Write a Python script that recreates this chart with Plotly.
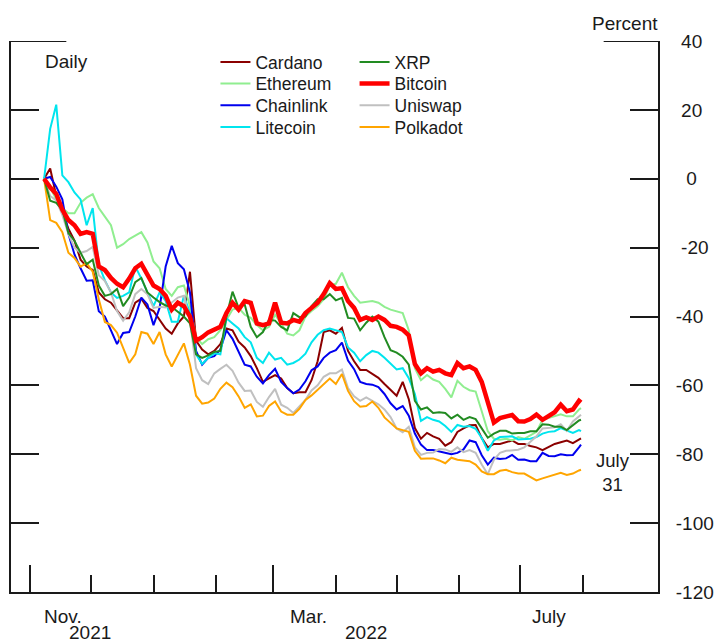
import pandas as pd
import plotly.graph_objects as go

# ---- data (percent change since Nov. 8, 2021; every 3 days, last point July 31) ----
start = pd.Timestamp("2021-11-08")
dates = [start + pd.Timedelta(days=3 * i) for i in range(89)] + [pd.Timestamp("2022-07-31")]

bitcoin = [0, -2.5, -4.4, -9, -12, -13.5, -16, -15.5, -16, -25.5,
           -26.5, -28.8, -30.5, -31.5, -29, -26, -24.7, -28, -31, -32,
           -34, -38, -36, -37, -40, -47, -46, -44.6, -43.7, -43,
           -39, -36, -38, -35.5, -36, -42, -42.5, -42, -36, -41.8,
           -42, -41, -41.5, -39, -37.5, -36, -33.5, -30.3, -32, -31.8,
           -35.5, -37.5, -41, -40.3, -41, -40, -41, -42.7, -43, -43.8,
           -45.5, -53.8, -56.5, -55, -56, -55.5, -56.5, -57, -53.5, -55,
           -54.5, -55.5, -59, -65.4, -70.8, -69.5, -69, -68.6, -70.4, -70.5,
           -69.8, -68.5, -70, -69, -67.8, -65.6, -67.5, -67, -64.5, -65]

ethereum = [0, -2.5, -6, -8.5, -10, -10, -7, -5.5, -4.5, -8.5,
            -11, -13.5, -20, -19, -17.5, -16.5, -15.5, -18.5, -24, -26,
            -32, -34, -31.5, -31, -37, -46, -48, -46.6, -46, -44,
            -41, -38, -37.5, -39.5, -40.4, -42.5, -44, -43, -39.5, -42,
            -45, -45.5, -44, -40, -38.4, -37, -35, -31, -30.5, -27.3,
            -31.5, -34, -36, -35.8, -35.5, -36, -37.2, -38, -38.6, -39,
            -44, -55, -58.5, -57, -58.3, -59, -61, -63.5, -58.7, -60.4,
            -61.4, -61.8, -67.5, -73.3, -75.5, -75.8, -75.5, -76, -75, -75.5,
            -74.5, -73.5, -70, -69.4, -68.8, -68.4, -69, -69, -67, -66.6]

xrp = [0, -6.4, -7, -9, -15.8, -18, -21.5, -24.8, -23.5, -31,
       -34, -33.5, -32, -37, -34.5, -30, -28.8, -33, -34.5, -35.8,
       -36.8, -37.2, -38.6, -40, -42, -51, -52, -51.3, -50.3, -50,
       -40, -32.8, -37.5, -36.5, -43, -46, -44.5, -41, -41.2, -43,
       -44, -39, -40.2, -40, -37, -35, -35, -33.5, -35.3, -34.6,
       -40.4, -40.6, -44, -41.8, -40, -41.5, -46, -49.8, -50.5, -51.7,
       -54, -64.5, -67, -66.4, -68, -67.8, -68, -69.6, -68.5, -70,
       -69.2, -69.8, -72.5, -75.2, -74, -73.2, -73.2, -74, -73.8, -73.8,
       -73.3, -73.3, -71.3, -71.4, -72, -72, -73, -71.5, -70.2, -70]

cardano = [0, 3, -5, -10, -14.5, -18, -23.5, -25.5, -26.5, -33,
           -35, -36, -38.4, -40.5, -40.5, -36, -34.8, -37.5, -38.4, -41,
           -43.5, -45, -42, -40, -27, -47, -49.6, -51, -50, -48,
           -43.5, -44, -47.3, -49, -51.5, -55, -59, -58, -57, -58,
           -60.8, -62.3, -62, -62, -58.5, -53, -44.5, -44, -45, -43.3,
           -50, -53, -55.5, -55.5, -56.7, -57.8, -59.6, -61.3, -63, -59,
           -64, -72.4, -75.5, -73.8, -74.8, -75.5, -77.5, -76.5, -73.5, -72.5,
           -71.6, -71.5, -75.3, -78, -77, -77, -76.5, -76, -77, -77,
           -77.6, -78, -78.8, -78, -77, -76.5, -76, -76.8, -75.6, -75.4]

chainlink = [0, 0.5, -2.3, -6, -16, -22, -26, -29.6, -29.5, -38.5,
             -40, -44, -48, -44.8, -44.5, -40, -34.5, -36.5, -42.5, -37.5,
             -25.5, -19.5, -24.5, -26.3, -33, -50, -54, -52, -51.5, -49.6,
             -44, -46.5, -50.3, -54, -54.5, -57.5, -59.4, -57, -55.2, -59,
             -60.8, -62.3, -61.2, -58.8, -55.6, -54.5, -52, -50.5, -49.8, -47.6,
             -52.8, -55.3, -59, -59.6, -59.8, -60.5, -62.5, -65.2, -67, -66,
             -68.8, -74, -77.2, -78.8, -78.8, -79.2, -79.8, -80, -79.6, -78.6,
             -76, -76.5, -80.3, -83, -81, -81.4, -81.2, -80.2, -81.6, -81.5,
             -82, -82, -79.6, -80.5, -80.6, -80, -80.3, -80.2, -78, -77.2]

litecoin = [0, 14.5, 21.5, 1, -1, -4, -6, -13.5, -8.5, -25,
            -29.5, -33, -34.6, -34, -33, -25.5, -29, -33, -37, -33,
            -35.5, -41.5, -41.5, -34, -39, -51, -53.8, -52, -50.7, -51,
            -40.5, -42, -43.5, -46, -47.5, -52, -53.5, -50.5, -52.5, -52,
            -54, -53.5, -52.5, -50.8, -47.5, -45.3, -44, -43.5, -44, -44.5,
            -49, -50.5, -53, -51.2, -50, -50.5, -52, -53.7, -55.4, -55,
            -57.9, -62.5, -70.3, -69.2, -70, -70.5, -71.8, -73.5, -71.5, -72,
            -71.8, -72.6, -75.3, -79, -76, -75, -75, -74.8, -75.7, -75.5,
            -75.5, -75, -74, -73.5, -73.3, -72.4, -73.2, -73.8, -73, -73.3]

uniswap = [0, -5, -6.3, -10.5, -16, -20, -21.5, -21, -19.8, -28,
           -29.7, -33, -38.4, -41.2, -38.8, -33.5, -32, -33.5, -37.5, -37.2,
           -37.4, -36, -34.5, -34, -41, -55, -58.5, -59.6, -56.5, -55.2,
           -54, -55.8, -59.2, -61.6, -61.5, -64.8, -66.2, -63.4, -61, -65.6,
           -66.5, -68, -66, -64.2, -61.5, -60, -57.5, -56.5, -56.5, -55.4,
           -60.8, -63.2, -64.5, -63.5, -64.5, -65.5, -67, -69.2, -72.5, -73.6,
           -72, -78, -80.2, -79.6, -79.5, -78.5, -78.6, -79.3, -78, -79.4,
           -78.8, -79.6, -83, -85.8, -81.6, -79.6, -79, -78.8, -78.7, -78,
           -76.5, -74.8, -72.5, -72.3, -72.2, -71.3, -73.2, -70.5, -68.8, -68.5]

polkadot = [0, -12, -12.8, -15.5, -21.5, -23, -25.5, -24.5, -27, -35,
            -41.6, -42.5, -44.7, -49, -53.5, -51, -44.5, -45, -48, -44.5,
            -51, -54.5, -51, -47.8, -54, -63, -65.3, -65, -63.8, -61,
            -59.2, -60.5, -63.2, -66.5, -65.5, -69, -68.8, -66, -64.7, -67.6,
            -68.5, -68.5, -66.8, -64.2, -62.9, -61.2, -59.6, -58, -59.6, -56.7,
            -61.6, -64.6, -66.2, -66, -64.7, -66.5, -69.3, -71, -72.5, -73,
            -73.5, -79, -81.3, -81.2, -81.2, -81.8, -82.6, -81, -81.6, -81.8,
            -82, -83, -85, -85.8, -85.8, -84.8, -84.5, -85.2, -85.6, -85.6,
            -86.6, -87.6, -87, -86.4, -85.8, -85.4, -86, -85.6, -84.7, -84.5]

y_ticks = [-120, -100, -80, -60, -40, -20, 0, 20, 40]
y_ticktext = ["-120", "-100", "-80", "-60", "-40", "\u00a0-20", "\u00a0\u00a00", "\u00a020", "\u00a040"]
major_months = ["2021-11-01", "2022-03-01", "2022-07-01"]
minor_months = ["2021-12-01", "2022-01-01", "2022-02-01", "2022-04-01",
                "2022-05-01", "2022-06-01", "2022-08-01"]

FONT = "Liberation Sans, Arial, Helvetica, sans-serif"
INK = "#1a1a1a"

# name, values, color, width, legend column, legend row
series = [
    ("Cardano", cardano, "#8B0000", 2, 0, 0),
    ("Ethereum", ethereum, "#90EE90", 2, 0, 1),
    ("Chainlink", chainlink, "#0000EE", 2, 0, 2),
    ("Litecoin", litecoin, "#00E5EE", 2, 0, 3),
    ("Uniswap", uniswap, "#C0C0C0", 2, 1, 2),
    ("Polkadot", polkadot, "#FFA500", 2, 1, 3),
    ("XRP", xrp, "#228B22", 2, 1, 0),
    ("Bitcoin", bitcoin, "#FF0000", 4.5, 1, 1),
]

fig = go.Figure()
legend_layout = {}
col_x = [0.316, 0.531]
for k, (name, vals, color, width, col, row) in enumerate(series):
    key = "legend" if k == 0 else f"legend{k + 1}"
    fig.add_trace(go.Scatter(
        x=dates, y=vals, mode="lines", name=name,
        line=dict(color=color, width=width), legend=key,
    ))
    row_py = 62 + 21.7 * row
    legend_layout[key] = dict(
        x=col_x[col], y=(592 - row_py) / 551, xanchor="left", yanchor="middle",
        bgcolor="rgba(0,0,0,0)", font=dict(size=17.5, color=INK),
        tracegroupgap=0,
    )
# companion trace so the right-hand axis is drawn
fig.add_trace(go.Scatter(x=[dates[0]], y=[None], yaxis="y2", showlegend=False,
                         hoverinfo="skip", mode="lines"))

axis_common = dict(showgrid=False, zeroline=False, showline=True,
                   linecolor=INK, linewidth=2, tickcolor=INK, tickwidth=2)

fig.update_layout(
    width=725, height=643,
    margin=dict(l=11, r=59, t=41, b=51),
    paper_bgcolor="white", plot_bgcolor="white",
    font=dict(family=FONT, size=19, color=INK),
    xaxis=dict(
        type="date", range=["2021-10-22 16:00", "2022-09-07"],
        ticks="inside", tickmode="array", tickvals=major_months, ticklen=27,
        showticklabels=False,
        minor=dict(tickmode="array", tickvals=minor_months, ticks="inside",
                   ticklen=17, tickwidth=2, tickcolor=INK),
        **axis_common,
    ),
    yaxis=dict(
        range=[-120, 40], ticks="inside", tickmode="array", tickvals=y_ticks,
        ticklen=28, showticklabels=False, **axis_common,
    ),
    yaxis2=dict(
        range=[-120, 40], overlaying="y", side="right", anchor="x",
        ticks="inside", tickmode="array", tickvals=y_ticks, ticktext=y_ticktext,
        ticklen=28, tickfont=dict(size=19, color=INK), ticklabelstandoff=12,
        **axis_common,
    ),
    shapes=[
        dict(type="line", xref="x domain", yref="y", x0=0, x1=56 / 655, y0=40, y1=40,
             line=dict(color=INK, width=2)),
        dict(type="line", xref="x domain", yref="y", x0=1 - 55 / 655, x1=1, y0=40, y1=40,
             line=dict(color=INK, width=2)),
    ],
    annotations=[
        dict(text="Daily", xref="paper", yref="paper", x=0.049, y=0.962,
             xanchor="left", yanchor="middle", showarrow=False, font=dict(size=19)),
        dict(text="Percent", xref="paper", yref="paper", x=0.9496, y=1.031,
             xanchor="center", yanchor="middle", showarrow=False, font=dict(size=19)),
        dict(text="July<br>31", xref="paper", yref="y", x=0.9298, y=-85.2,
             xanchor="center", yanchor="middle", showarrow=False, font=dict(size=18.5)),
        dict(text="Nov.", xref="x", yref="paper", x="2021-11-17 12:00", y=-0.0436,
             xanchor="center", yanchor="middle", showarrow=False),
        dict(text="2021", xref="x", yref="paper", x="2021-11-30 16:00", y=-0.0744,
             xanchor="center", yanchor="middle", showarrow=False),
        dict(text="Mar.", xref="x", yref="paper", x="2022-03-18 12:00", y=-0.0436,
             xanchor="center", yanchor="middle", showarrow=False),
        dict(text="2022", xref="x", yref="paper", x="2022-04-16", y=-0.0744,
             xanchor="center", yanchor="middle", showarrow=False),
        dict(text="July", xref="x", yref="paper", x="2022-07-15", y=-0.0436,
             xanchor="center", yanchor="middle", showarrow=False),
    ],
    showlegend=True,
    **legend_layout,
)

fig.write_html("out.html", config={"displayModeBar": False},
               post_script="document.body.style.margin='0';")
